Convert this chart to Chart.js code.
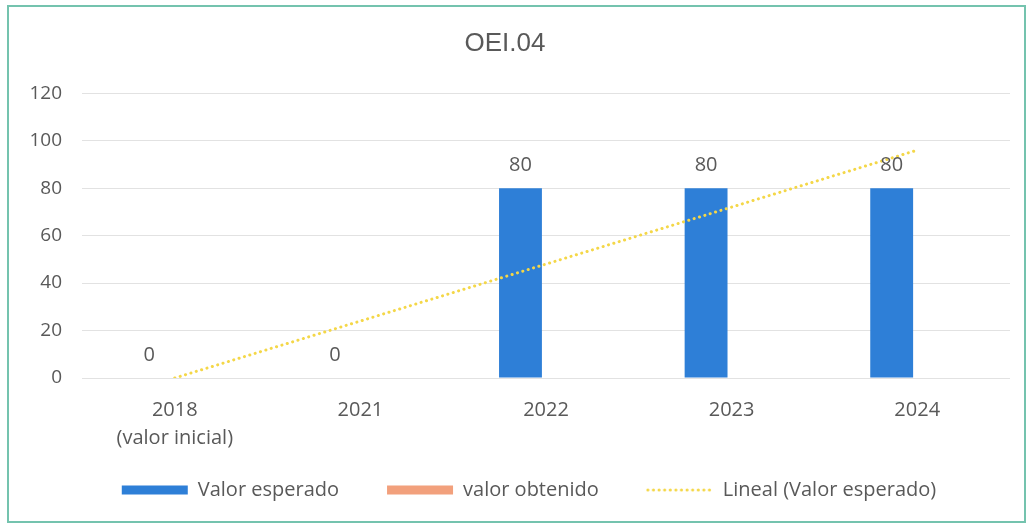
<!DOCTYPE html>
<html>
<head>
<meta charset="utf-8">
<script src="https://cdn.jsdelivr.net/npm/chart.js@4.4.1/dist/chart.umd.min.js"></script>
<style>
  html, body { margin: 0; padding: 0; background: #fff; }
  #wrap { width: 1030px; height: 524px; }
</style>
</head>
<body>
<div id="wrap"><canvas id="chart" width="1030" height="524"></canvas></div>
<script>
// data
const categories = [['2018', '(valor inicial)'], '2021', '2022', '2023', '2024'];
const valorEsperado = [0, 0, 80, 80, 80];
const valorObtenido = [null, null, null, null, null];
const lineal = [0, 24, 48, 72, 96];
const yTicks = { min: 0, max: 120, step: 20 };

const textColor = '#595959';
const font = '"Open Sans", "Noto Sans", sans-serif';
const trendColor = '#f4d748';
const trendDash = [0.1, 5.5];

// dotted swatch for the trend line legend entry
const trendSwatch = document.createElement('canvas');
trendSwatch.width = 68;
trendSwatch.height = 6;
(function () {
    const c = trendSwatch.getContext('2d');
    c.strokeStyle = trendColor;
    c.lineWidth = 3;
    c.lineCap = 'round';
    c.setLineDash(trendDash);
    c.beginPath();
    c.moveTo(2, 3);
    c.lineTo(66, 3);
    c.stroke();
})();

// frame + white background
const framePlugin = {
    id: 'frame',
    beforeDraw(chart) {
        const ctx = chart.ctx;
        ctx.save();
        ctx.fillStyle = '#fff';
        ctx.fillRect(0, 0, chart.width, chart.height);
        ctx.restore();
    },
    afterDraw(chart) {
        const ctx = chart.ctx;
        ctx.save();
        ctx.strokeStyle = '#74c3ae';
        ctx.lineWidth = 2;
        ctx.strokeRect(8, 6, 1017, 516);
        ctx.restore();
    }
};

// legend sits a bit over the x axis box (two-line category label)
const legendShift = {
    id: 'legendShift',
    afterLayout(chart) {
        const lg = chart.legend;
        lg.top -= 22;
        lg.bottom -= 22;
        lg.left += 24;
        lg.right += 24;
    }
};

// value labels above the blue bars
const valueLabels = {
    id: 'valueLabels',
    afterDatasetsDraw(chart) {
        const ctx = chart.ctx;
        const meta = chart.getDatasetMeta(0);
        ctx.save();
        ctx.font = '20px ' + font;
        ctx.fillStyle = textColor;
        ctx.textAlign = 'center';
        ctx.textBaseline = 'middle';
        meta.data.forEach((bar, i) => {
            const v = valorEsperado[i];
            if (v === null) return;
            ctx.fillText(String(v), bar.x, bar.y - 23);
        });
        ctx.restore();
    }
};

new Chart(document.getElementById('chart'), {
    data: {
        labels: categories,
        datasets: [
            {
                type: 'bar',
                label: 'Valor esperado',
                data: valorEsperado,
                backgroundColor: '#2e7fd7',
                categoryPercentage: 0.55,
                barPercentage: 0.84,
                pointStyle: 'rect',
                order: 2
            },
            {
                type: 'bar',
                label: 'valor obtenido',
                data: valorObtenido,
                backgroundColor: '#f2a07c',
                categoryPercentage: 0.55,
                barPercentage: 0.84,
                pointStyle: 'rect',
                order: 3
            },
            {
                type: 'line',
                label: 'Lineal (Valor esperado)',
                data: lineal,
                borderColor: trendColor,
                backgroundColor: trendColor,
                borderWidth: 3,
                borderDash: trendDash,
                borderCapStyle: 'round',
                pointRadius: 0,
                pointStyle: trendSwatch,
                fill: false,
                order: 1
            }
        ]
    },
    options: {
        responsive: false,
        animation: false,
        layout: { padding: { left: 0, right: 20, top: 0, bottom: 0 } },
        plugins: {
            title: {
                display: true,
                text: 'OEI.04',
                color: textColor,
                font: { family: '"Liberation Sans", Arial, sans-serif', size: 26, weight: 'normal' },
                padding: { top: 28, bottom: 34 }
            },
            legend: {
                position: 'bottom',
                maxHeight: 70,
                labels: {
                    usePointStyle: true,
                    pointStyleWidth: 66,
                    boxWidth: 66,
                    boxHeight: 9,
                    padding: 48,
                    color: textColor,
                    font: { family: font, size: 20 },
                    sort: (a, b) => a.datasetIndex - b.datasetIndex
                }
            },
            tooltip: { enabled: false }
        },
        scales: {
            x: {
                grid: { display: false, drawTicks: false },
                border: { display: false },
                ticks: {
                    color: textColor,
                    padding: 18,
                    font: { family: font, size: 20, lineHeight: 1.4 }
                },
                afterFit(scale) { scale.height = 76; }
            },
            y: {
                min: yTicks.min,
                max: yTicks.max,
                grid: { color: '#e2e2e2', drawTicks: false },
                border: { display: false },
                ticks: {
                    stepSize: yTicks.step,
                    color: textColor,
                    padding: 20,
                    font: { family: font, size: 19 }
                },
                afterFit(scale) { scale.width = 82; }
            }
        }
    },
    plugins: [framePlugin, legendShift, valueLabels]
});
</script>
</body>
</html>
